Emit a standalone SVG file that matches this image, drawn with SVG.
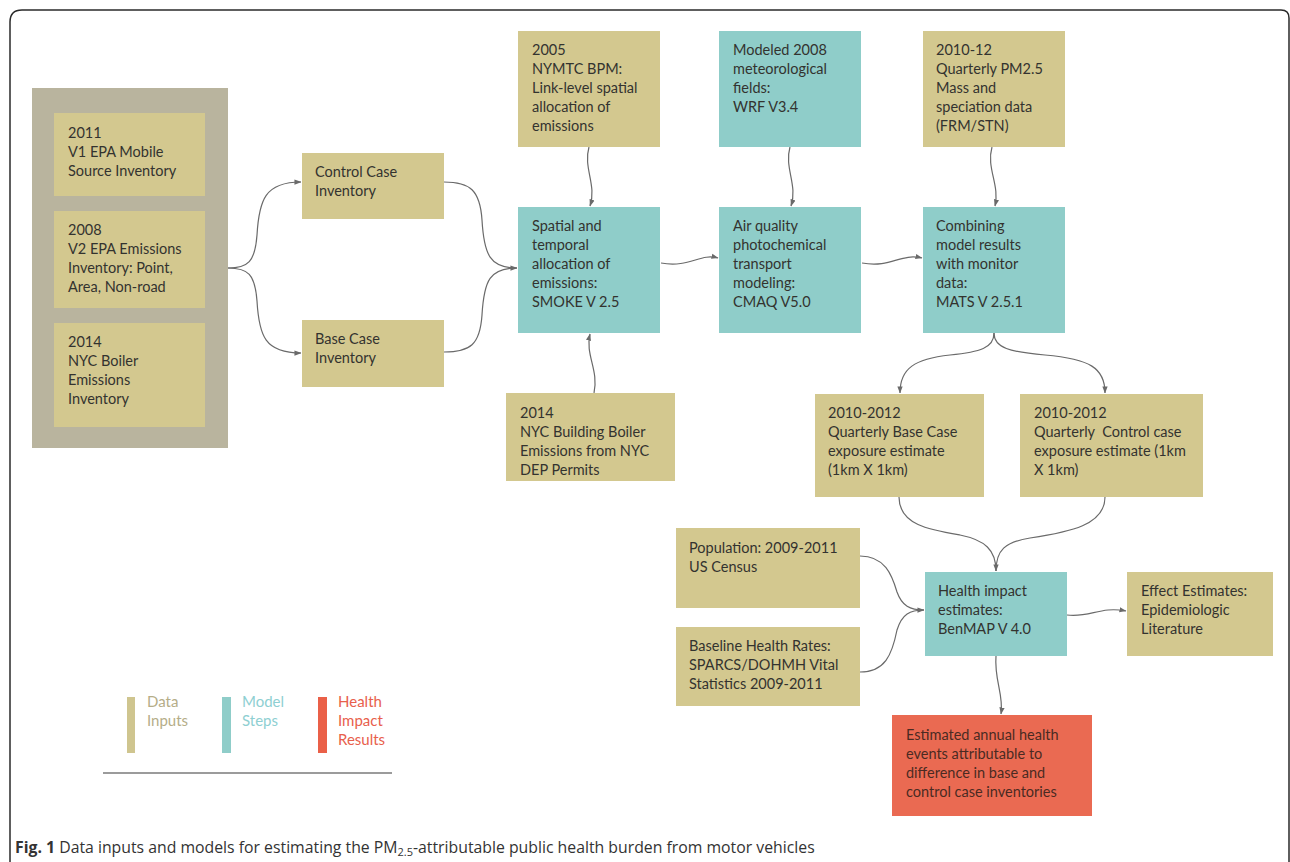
<svg xmlns="http://www.w3.org/2000/svg" width="1290" height="862" viewBox="0 0 1290 862">
<defs>
<style>
.tan{fill:#d3c88f}
.teal{fill:#8fcdc9}
.red{fill:#ea6a52}
.t{font-family:Lato,"Open Sans","Liberation Sans",sans-serif;font-size:14.5px;fill:#33332f}
.tr{font-family:Lato,"Open Sans","Liberation Sans",sans-serif;font-size:14.5px;fill:#4a2a22}
.c{fill:none;stroke:#6a6a6a;stroke-width:1.2}
.lg{font-family:Lato,"Open Sans","Liberation Sans",sans-serif;font-size:15px}
</style>
<marker id="ah" viewBox="0 0 8 6" refX="7.5" refY="3" markerWidth="7" markerHeight="6" markerUnits="userSpaceOnUse" orient="auto">
<path d="M0,0 L8,3 L0,6 z" fill="#6a6a6a"/>
</marker>
</defs>
<rect width="1290" height="862" fill="#ffffff"/>
<path d="M10,880 L10,22 Q10,10 22,10 L1281,10 Q1289,10 1289,18 L1289,880" fill="none" stroke="#2a2a2a" stroke-width="1.5"/>

<g id="connectors">
<path class="c" marker-end="url(#ah)" d="M228,268 C248,268 255,262 257,235 C259,200 265,182 301,182"/>
<path class="c" marker-end="url(#ah)" d="M228,268 C248,268 255,274 257,301 C259,336 265,353 301,353"/>
<path class="c" marker-end="url(#ah)" d="M444,182 C470,182 480,190 482,220 C484,255 490,268 517,268"/>
<path class="c" d="M444,352 C470,352 480,345 482,315 C484,280 490,268 517,268"/>
<path class="c" marker-end="url(#ah)" d="M589,147 C583,168 597,185 590,206"/>
<path class="c" marker-end="url(#ah)" d="M790,147 C784,168 798,185 791,206"/>
<path class="c" marker-end="url(#ah)" d="M992,147 C986,168 1000,185 995,206"/>
<path class="c" marker-end="url(#ah)" d="M594,393 C599,370 585,355 590,334"/>
<path class="c" marker-end="url(#ah)" d="M661,263 C690,268 700,253 718,258"/>
<path class="c" marker-end="url(#ah)" d="M862,263 C892,268 900,253 922,258"/>
<path class="c" marker-end="url(#ah)" d="M994,333 C994,348 980,352 950,355 C915,359 900,368 900,393"/>
<path class="c" marker-end="url(#ah)" d="M994,333 C994,348 1010,352 1045,355 C1090,359 1105,368 1105,393"/>
<path class="c" marker-end="url(#ah)" d="M899,497 C899,525 930,530 960,535 C985,540 996,550 996,571"/>
<path class="c" d="M1105,497 C1105,525 1070,532 1030,538 C1005,542 996,550 996,571"/>
<path class="c" marker-end="url(#ah)" d="M860,556 C885,556 892,575 897,592 C902,606 910,610 924,610"/>
<path class="c" d="M860,672 C885,672 892,655 897,630 C902,614 910,610 924,610"/>
<path class="c" marker-end="url(#ah)" d="M1067,615 C1090,618 1100,606 1126,611"/>
<path class="c" marker-end="url(#ah)" d="M996,656 C994,680 1004,695 1001,714"/>
</g>

<g id="inputs-group">
<rect x="32" y="88" width="196" height="360" fill="#b9b49e"/>
</g>
<g id="n2011">
<rect class="tan" x="54" y="113" width="151" height="83"/>
<text class="t" x="68" y="138">2011<tspan x="68" dy="19">V1 EPA Mobile</tspan><tspan x="68" dy="19">Source Inventory</tspan></text>
</g>
<g id="n2008">
<rect class="tan" x="54" y="211" width="151" height="97"/>
<text class="t" x="68" y="235">2008<tspan x="68" dy="19">V2 EPA Emissions</tspan><tspan x="68" dy="19">Inventory: Point,</tspan><tspan x="68" dy="19">Area, Non-road</tspan></text>
</g>
<g id="n2014">
<rect class="tan" x="54" y="323" width="151" height="104"/>
<text class="t" x="68" y="347">2014<tspan x="68" dy="19">NYC Boiler</tspan><tspan x="68" dy="19">Emissions</tspan><tspan x="68" dy="19">Inventory</tspan></text>
</g>
<g id="control">
<rect class="tan" x="302" y="153" width="142" height="66"/>
<text class="t" x="315" y="177">Control Case<tspan x="315" dy="19">Inventory</tspan></text>
</g>
<g id="base">
<rect class="tan" x="302" y="320" width="142" height="67"/>
<text class="t" x="315" y="344">Base Case<tspan x="315" dy="19">Inventory</tspan></text>
</g>
<g id="nymtc">
<rect class="tan" x="518" y="31" width="142" height="116"/>
<text class="t" x="532" y="55">2005<tspan x="532" dy="19">NYMTC BPM:</tspan><tspan x="532" dy="19">Link-level spatial</tspan><tspan x="532" dy="19">allocation of</tspan><tspan x="532" dy="19">emissions</tspan></text>
</g>
<g id="wrf">
<rect class="teal" x="719" y="31" width="142" height="116"/>
<text class="t" x="733" y="55">Modeled 2008<tspan x="733" dy="19">meteorological</tspan><tspan x="733" dy="19">fields:</tspan><tspan x="733" dy="19">WRF V3.4</tspan></text>
</g>
<g id="pm25">
<rect class="tan" x="923" y="31" width="142" height="116"/>
<text class="t" x="936" y="55">2010-12<tspan x="936" dy="19">Quarterly PM2.5</tspan><tspan x="936" dy="19">Mass and</tspan><tspan x="936" dy="19">speciation data</tspan><tspan x="936" dy="19">(FRM/STN)</tspan></text>
</g>
<g id="smoke">
<rect class="teal" x="518" y="207" width="142" height="126"/>
<text class="t" x="532" y="231">Spatial and<tspan x="532" dy="19">temporal</tspan><tspan x="532" dy="19">allocation of</tspan><tspan x="532" dy="19">emissions:</tspan><tspan x="532" dy="19">SMOKE V 2.5</tspan></text>
</g>
<g id="cmaq">
<rect class="teal" x="719" y="207" width="142" height="126"/>
<text class="t" x="733" y="231">Air quality<tspan x="733" dy="19">photochemical</tspan><tspan x="733" dy="19">transport</tspan><tspan x="733" dy="19">modeling:</tspan><tspan x="733" dy="19">CMAQ V5.0</tspan></text>
</g>
<g id="mats">
<rect class="teal" x="923" y="207" width="142" height="126"/>
<text class="t" x="936" y="231">Combining<tspan x="936" dy="19">model results</tspan><tspan x="936" dy="19">with monitor</tspan><tspan x="936" dy="19">data:</tspan><tspan x="936" dy="19">MATS V 2.5.1</tspan></text>
</g>
<g id="boiler">
<rect class="tan" x="506" y="393" width="169" height="88"/>
<text class="t" x="520" y="418">2014<tspan x="520" dy="19">NYC Building Boiler</tspan><tspan x="520" dy="19">Emissions from NYC</tspan><tspan x="520" dy="19">DEP Permits</tspan></text>
</g>
<g id="qbase">
<rect class="tan" x="815" y="394" width="169" height="103"/>
<text class="t" x="828" y="418">2010-2012<tspan x="828" dy="19">Quarterly Base Case</tspan><tspan x="828" dy="19">exposure estimate</tspan><tspan x="828" dy="19">(1km X 1km)</tspan></text>
</g>
<g id="qcontrol">
<rect class="tan" x="1020" y="394" width="183" height="103"/>
<text class="t" x="1034" y="418" xml:space="preserve">2010-2012<tspan x="1034" dy="19">Quarterly  Control case</tspan><tspan x="1034" dy="19">exposure estimate (1km</tspan><tspan x="1034" dy="19">X 1km)</tspan></text>
</g>
<g id="population">
<rect class="tan" x="676" y="528" width="184" height="80"/>
<text class="t" x="689" y="553">Population: 2009-2011<tspan x="689" dy="19">US Census</tspan></text>
</g>
<g id="baseline">
<rect class="tan" x="676" y="627" width="184" height="79"/>
<text class="t" x="689" y="651">Baseline Health Rates:<tspan x="689" dy="19">SPARCS/DOHMH Vital</tspan><tspan x="689" dy="19">Statistics 2009-2011</tspan></text>
</g>
<g id="benmap">
<rect class="teal" x="925" y="572" width="142" height="84"/>
<text class="t" x="938" y="596">Health impact<tspan x="938" dy="19">estimates:</tspan><tspan x="938" dy="19">BenMAP V 4.0</tspan></text>
</g>
<g id="effect">
<rect class="tan" x="1127" y="572" width="146" height="84"/>
<text class="t" x="1141" y="596">Effect Estimates:<tspan x="1141" dy="19">Epidemiologic</tspan><tspan x="1141" dy="19">Literature</tspan></text>
</g>
<g id="result">
<rect class="red" x="892" y="715" width="200" height="101"/>
<text class="tr" x="906" y="740">Estimated annual health<tspan x="906" dy="19">events attributable to</tspan><tspan x="906" dy="19">difference in base and</tspan><tspan x="906" dy="19">control case inventories</tspan></text>
</g>

<g id="legend">
<rect x="127" y="697" width="8" height="56" fill="#cfc58f"/>
<text class="lg" x="147" y="707" fill="#b5ad88">Data<tspan x="147" dy="19">Inputs</tspan></text>
<rect x="222" y="697" width="9" height="56" fill="#8fcdc9"/>
<text class="lg" x="242" y="707" fill="#8ecfd2">Model<tspan x="242" dy="19">Steps</tspan></text>
<rect x="318" y="697" width="9" height="56" fill="#ea6048"/>
<text class="lg" x="338" y="707" fill="#e8604c">Health<tspan x="338" dy="19">Impact</tspan><tspan x="338" dy="19">Results</tspan></text>
<line x1="103" y1="773" x2="392" y2="773" stroke="#7a7a7a" stroke-width="1.5"/>
</g>

<text x="15" y="853" font-family="'Open Sans','Liberation Sans',sans-serif" font-size="15.8" fill="#333"><tspan font-weight="bold">Fig. 1</tspan> Data inputs and models for estimating the PM<tspan font-size="11" dy="3">2.5</tspan><tspan dy="-3">-attributable public health burden from motor vehicles</tspan></text>
</svg>
